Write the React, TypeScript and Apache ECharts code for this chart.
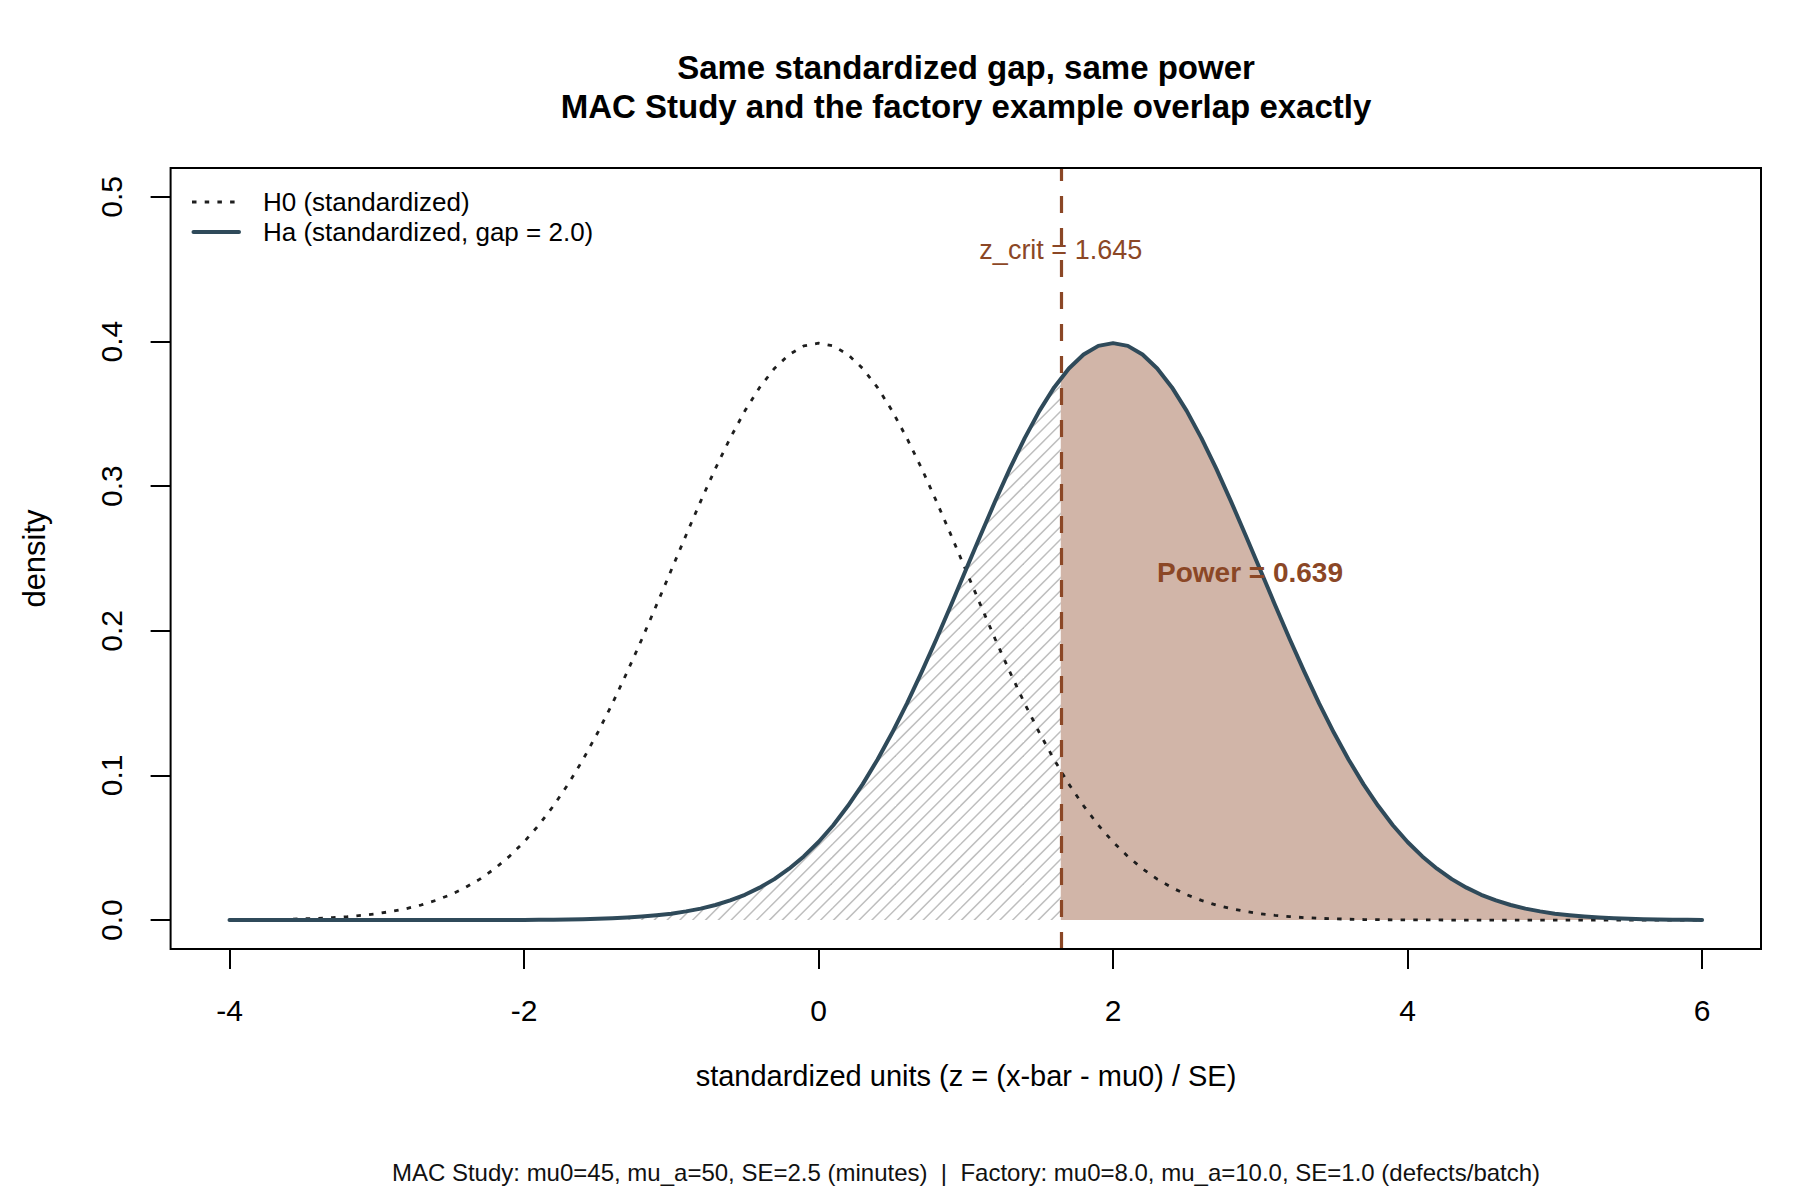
import React, { useEffect, useRef } from "react";
import * as echarts from "echarts";

// ---- data ----
const zGrid = [
  -4.0, -3.9, -3.8, -3.7, -3.6, -3.5, -3.4, -3.3, -3.2, -3.1,
  -3.0, -2.9, -2.8, -2.7, -2.6, -2.5, -2.4, -2.3, -2.2, -2.1,
  -2.0, -1.9, -1.8, -1.7, -1.6, -1.5, -1.4, -1.3, -1.2, -1.1,
  -1.0, -0.9, -0.8, -0.7, -0.6, -0.5, -0.4, -0.3, -0.2, -0.1,
  0.0, 0.1, 0.2, 0.3, 0.4, 0.5, 0.6, 0.7, 0.8, 0.9,
  1.0, 1.1, 1.2, 1.3, 1.4, 1.5, 1.6, 1.7, 1.8, 1.9,
  2.0, 2.1, 2.2, 2.3, 2.4, 2.5, 2.6, 2.7, 2.8, 2.9,
  3.0, 3.1, 3.2, 3.3, 3.4, 3.5, 3.6, 3.7, 3.8, 3.9,
  4.0, 4.1, 4.2, 4.3, 4.4, 4.5, 4.6, 4.7, 4.8, 4.9,
  5.0, 5.1, 5.2, 5.3, 5.4, 5.5, 5.6, 5.7, 5.8, 5.9,
  6.0,
];

const h0Density = [
  0.0001, 0.0002, 0.0003, 0.0004, 0.0006, 0.0009, 0.0012, 0.0017, 0.0024, 0.0033,
  0.0044, 0.0060, 0.0079, 0.0104, 0.0136, 0.0175, 0.0224, 0.0283, 0.0355, 0.0440,
  0.0540, 0.0656, 0.0790, 0.0940, 0.1109, 0.1295, 0.1497, 0.1714, 0.1942, 0.2179,
  0.2420, 0.2661, 0.2897, 0.3123, 0.3332, 0.3521, 0.3683, 0.3814, 0.3910, 0.3970,
  0.3989, 0.3970, 0.3910, 0.3814, 0.3683, 0.3521, 0.3332, 0.3123, 0.2897, 0.2661,
  0.2420, 0.2179, 0.1942, 0.1714, 0.1497, 0.1295, 0.1109, 0.0940, 0.0790, 0.0656,
  0.0540, 0.0440, 0.0355, 0.0283, 0.0224, 0.0175, 0.0136, 0.0104, 0.0079, 0.0060,
  0.0044, 0.0033, 0.0024, 0.0017, 0.0012, 0.0009, 0.0006, 0.0004, 0.0003, 0.0002,
  0.0001, 0.0001, 0.0001, 0.0000, 0.0000, 0.0000, 0.0000, 0.0000, 0.0000, 0.0000,
  0.0000, 0.0000, 0.0000, 0.0000, 0.0000, 0.0000, 0.0000, 0.0000, 0.0000, 0.0000,
  0.0000,
];

const haDensity = [
  0.0000, 0.0000, 0.0000, 0.0000, 0.0000, 0.0000, 0.0000, 0.0000, 0.0000, 0.0000,
  0.0000, 0.0000, 0.0000, 0.0000, 0.0000, 0.0000, 0.0000, 0.0000, 0.0001, 0.0001,
  0.0001, 0.0002, 0.0003, 0.0004, 0.0006, 0.0009, 0.0012, 0.0017, 0.0024, 0.0033,
  0.0044, 0.0060, 0.0079, 0.0104, 0.0136, 0.0175, 0.0224, 0.0283, 0.0355, 0.0440,
  0.0540, 0.0656, 0.0790, 0.0940, 0.1109, 0.1295, 0.1497, 0.1714, 0.1942, 0.2179,
  0.2420, 0.2661, 0.2897, 0.3123, 0.3332, 0.3521, 0.3683, 0.3814, 0.3910, 0.3970,
  0.3989, 0.3970, 0.3910, 0.3814, 0.3683, 0.3521, 0.3332, 0.3123, 0.2897, 0.2661,
  0.2420, 0.2179, 0.1942, 0.1714, 0.1497, 0.1295, 0.1109, 0.0940, 0.0790, 0.0656,
  0.0540, 0.0440, 0.0355, 0.0283, 0.0224, 0.0175, 0.0136, 0.0104, 0.0079, 0.0060,
  0.0044, 0.0033, 0.0024, 0.0017, 0.0012, 0.0009, 0.0006, 0.0004, 0.0003, 0.0002,
  0.0001,
];

const zCrit = 1.645;
const haAtCrit = 0.3745;
const zCritLabelY = 0.463;
const powerLabelX = 2.93;
const powerLabelY = 0.24;
const powerValue = 0.639;

const xTicks = [-4, -2, 0, 2, 4, 6];
const yTicks = [0, 0.1, 0.2, 0.3, 0.4, 0.5];

const titleLines = [
  "Same standardized gap, same power",
  "MAC Study and the factory example overlap exactly",
];
const xTitle = "standardized units (z = (x-bar - mu0) / SE)";
const yTitle = "density";
const legendLabels = ["H0 (standardized)", "Ha (standardized, gap = 2.0)"];
const footerText =
  "MAC Study: mu0=45, mu_a=50, SE=2.5 (minutes)  |  Factory: mu0=8.0, mu_a=10.0, SE=1.0 (defects/batch)";

// ---- styles ----
const FONT = "'Liberation Sans', Arial, Helvetica, sans-serif";
const HA_COLOR = "#2F4A5A";
const H0_COLOR = "#1E1E1E";
const SIENNA = "#8B4726";
const POWER_FILL = "#D1B5A8";
const HATCH = "#BEBEBE";
const H0_DASH = [4.5, 8.2];

function makeHatch() {
  const c = document.createElement("canvas");
  c.width = 64;
  c.height = 64;
  const ctx = c.getContext("2d");
  if (ctx) {
    ctx.strokeStyle = HATCH;
    ctx.lineWidth = 1.5;
    for (let k = -1; k <= 11; k++) {
      const cc = k * 12.8;
      ctx.beginPath();
      ctx.moveTo(cc + 4, -4);
      ctx.lineTo(-4, cc + 4);
      ctx.stroke();
    }
  }
  return { image: c, repeat: "repeat", imageWidth: 64, imageHeight: 64 };
}

function textEl(text: string, x: number, y: number, size: number, extra: any = {}) {
  const { rotation, weight, fill, align, z } = extra;
  return {
    type: "text",
    x,
    y,
    rotation: rotation || 0,
    z: z || 20,
    style: {
      text,
      fontSize: size,
      fontWeight: weight || "normal",
      fontFamily: FONT,
      fill: fill || "#000",
      opacity: 1,
      textAlign: align || "center",
      align: align || "center",
      textVerticalAlign: "middle",
      verticalAlign: "middle",
    },
  };
}

export default function App() {
  const ref = useRef<HTMLDivElement>(null);

  useEffect(() => {
    document.body.style.margin = "0";
    if (!ref.current) return;
    const chart = echarts.init(ref.current, undefined, { renderer: "svg" });

    const h0Data = zGrid.map((x, i) => [x, h0Density[i]]);
    const haData = zGrid.map((x, i) => [x, haDensity[i]]);
    const betaData = [
      ...zGrid.map((x, i) => [x, haDensity[i]]).filter((p) => p[0] < zCrit),
      [zCrit, haAtCrit],
    ];
    const powerData = [
      [zCrit, haAtCrit],
      ...zGrid.map((x, i) => [x, haDensity[i]]).filter((p) => p[0] > zCrit),
    ];

    const staticGraphics: any[] = [
      textEl(titleLines[0], 966, 67, 33, { weight: "bold" }),
      textEl(titleLines[1], 966, 106.5, 33, { weight: "bold" }),
      textEl(xTitle, 966, 1076, 29),
      textEl(yTitle, 34, 558.5, 31, { rotation: Math.PI / 2 }),
      textEl(footerText, 966, 1172, 24, { fill: "#111" }),
      {
        type: "line",
        shape: { x1: 192, y1: 202, x2: 240, y2: 202 },
        style: { stroke: H0_COLOR, lineWidth: 2.8, lineDash: H0_DASH, lineCap: "butt" },
        z: 20,
      },
      {
        type: "line",
        shape: { x1: 193.5, y1: 232, x2: 239, y2: 232 },
        style: { stroke: HA_COLOR, lineWidth: 4, lineCap: "round" },
        z: 20,
      },
      textEl(legendLabels[0], 263, 202, 26, { align: "left" }),
      textEl(legendLabels[1], 263, 232, 26, { align: "left" }),
    ];

    const option: any = {
      animation: false,
      backgroundColor: "#ffffff",
      grid: {
        left: 170.6,
        right: 39,
        top: 168,
        bottom: 251,
        show: true,
        borderColor: "#000",
        borderWidth: 2,
        backgroundColor: "transparent",
        z: 10,
      },
      xAxis: {
        type: "value",
        min: -4.4,
        max: 6.4,
        splitLine: { show: false },
        axisLine: { show: false, onZero: false },
        axisTick: {
          show: true,
          length: 20,
          inside: false,
          customValues: xTicks,
          lineStyle: { color: "#000", width: 2 },
        },
        axisLabel: {
          customValues: xTicks,
          fontSize: 30,
          fontFamily: FONT,
          color: "#000",
          margin: 61,
          verticalAlign: "middle",
          formatter: (v: number) => String(v),
        },
      },
      yAxis: {
        type: "value",
        min: -0.02,
        max: 0.52,
        splitLine: { show: false },
        axisLine: { show: false, onZero: false },
        axisTick: {
          show: true,
          length: 20,
          inside: false,
          customValues: yTicks,
          lineStyle: { color: "#000", width: 2 },
        },
        axisLabel: {
          customValues: yTicks,
          fontSize: 30,
          fontFamily: FONT,
          color: "#000",
          rotate: 90,
          align: "center",
          verticalAlign: "middle",
          margin: 59,
          formatter: (v: number) => v.toFixed(1),
        },
      },
      series: [
        {
          name: "beta",
          type: "line",
          data: betaData,
          symbol: "none",
          lineStyle: { width: 0 },
          areaStyle: { color: makeHatch(), opacity: 1 },
          z: 1,
          silent: true,
        },
        {
          name: "power",
          type: "line",
          data: powerData,
          symbol: "none",
          lineStyle: { width: 0 },
          areaStyle: { color: POWER_FILL, opacity: 1 },
          z: 2,
          silent: true,
        },
        {
          name: legendLabels[0],
          type: "line",
          data: h0Data,
          symbol: "none",
          lineStyle: { color: H0_COLOR, width: 2.8, type: H0_DASH, cap: "butt" },
          z: 3,
          silent: true,
        },
        {
          name: legendLabels[1],
          type: "line",
          data: haData,
          symbol: "none",
          lineStyle: { color: HA_COLOR, width: 4, cap: "round", join: "round" },
          z: 4,
          silent: true,
          markLine: {
            symbol: "none",
            silent: true,
            label: { show: false },
            lineStyle: { color: SIENNA, width: 3.2, type: [17, 15], cap: "butt", opacity: 1 },
            data: [{ xAxis: zCrit }],
            z: 5,
          },
        },
      ],
      graphic: staticGraphics,
    };

    chart.setOption(option);

    const pz = chart.convertToPixel({ gridIndex: 0 }, [zCrit, zCritLabelY]) as number[];
    const pp = chart.convertToPixel({ gridIndex: 0 }, [powerLabelX, powerLabelY]) as number[];
    chart.setOption({
      graphic: [
        ...staticGraphics,
        textEl("z_crit = " + zCrit.toFixed(3), pz[0], pz[1], 27, { fill: SIENNA, z: 30 }),
        textEl("Power = " + powerValue.toFixed(3), pp[0], pp[1], 28, {
          fill: SIENNA,
          weight: "bold",
          z: 30,
        }),
      ],
    });

    return () => {
      chart.dispose();
    };
  }, []);

  return (
    <div
      ref={ref}
      style={{ position: "absolute", left: 0, top: 0, width: 1800, height: 1200 }}
    />
  );
}
